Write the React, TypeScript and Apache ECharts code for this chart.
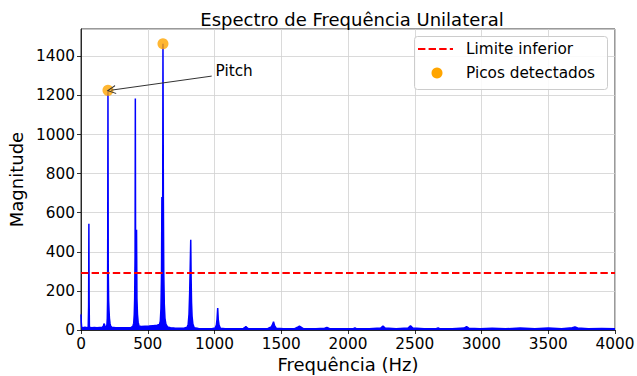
import React, { useEffect, useRef } from "react";
import * as echarts from "echarts";

// Spectrum (frequency in Hz, magnitude)
const spectrumFreq = [
  0, 2, 5, 15, 30, 45, 54, 57, 59, 61, 63, 80, 100, 120, 140, 160, 168, 172, 176, 180,
  188, 194, 197, 199, 200, 202, 204, 207, 210, 213, 217, 222, 230, 260, 290, 320, 350, 375,
  388, 395, 399, 402, 405, 407, 409, 412, 416, 419, 423, 428, 435, 450, 480, 510, 540, 570,
  588, 594, 599, 603, 606, 609, 612, 614, 617, 620, 624, 629, 636, 648, 670, 700, 740, 775,
  795, 803, 809, 814, 818, 822, 825, 828, 832, 838, 848, 880, 930, 980, 1005, 1014, 1019,
  1024, 1028, 1034, 1044, 1080, 1150, 1215, 1228, 1235, 1243, 1255, 1330, 1400, 1425, 1436,
  1442, 1450, 1462, 1520, 1600, 1622, 1636, 1648, 1665, 1760, 1825, 1842, 1860, 1950, 2040,
  2052, 2065, 2160, 2245, 2262, 2278, 2360, 2450, 2468, 2485, 2570, 2660, 2675, 2690, 2780,
  2870, 2888, 2905, 2990, 3080, 3180, 3290, 3400, 3500, 3600, 3680, 3700, 3720, 3800, 3900,
  4000,
];
const spectrumMag = [
  80, 40, 14, 12, 14, 12, 14, 120, 543, 150, 14, 12, 13, 12, 13, 14, 20, 32, 28, 16,
  14, 25, 60, 150, 420, 1226, 320, 150, 100, 60, 35, 20, 14, 12, 11, 12, 12, 13,
  18, 35, 80, 160, 380, 1185, 350, 230, 513, 160, 80, 40, 20, 18, 19, 20, 22, 24,
  28, 45, 110, 280, 680, 600, 640, 1465, 672, 290, 130, 60, 30, 16, 12, 10, 9, 10,
  14, 30, 80, 190, 320, 462, 260, 140, 70, 30, 12, 8, 7, 7, 10, 25, 55,
  112, 55, 25, 9, 7, 6, 7, 14, 18, 12, 6, 6, 8, 15, 30,
  42, 22, 9, 6, 7, 14, 20, 15, 7, 6, 9, 13, 8, 6, 7,
  11, 6, 6, 10, 20, 10, 6, 10, 22, 10, 6, 7, 11, 6, 6,
  10, 17, 9, 6, 9, 6, 10, 6, 10, 7, 12, 16, 10, 6, 8,
  6,
];

// Detected peaks
const peakFreq = [202, 614];
const peakMag = [1226, 1465];

// Lower limit
const thresholdValue = 292;

// Annotation
const pitchLabel = "Pitch";
const pitchTextPos = [1004, 1323];
const pitchArrowFrom = [979, 1299];
const pitchArrowTo = [226, 1227];

const xTicks = [0, 500, 1000, 1500, 2000, 2500, 3000, 3500, 4000];
const yTicks = [0, 200, 400, 600, 800, 1000, 1200, 1400];

const FONT = "DejaVu Sans";

export default function App() {
  const ref = useRef<HTMLDivElement>(null);

  useEffect(() => {
    if (!ref.current) return;
    const chart = echarts.init(ref.current, null, { renderer: "svg" });

    const spectrumData = spectrumFreq.map((f, i) => [f, spectrumMag[i]]);
    const peakData = peakFreq.map((f, i) => [f, peakMag[i]]);
    const xMin = xTicks[0];
    const xMax = xTicks[xTicks.length - 1];
    const yStep = yTicks[1] - yTicks[0];

    chart.setOption({
      animation: false,
      backgroundColor: "#ffffff",
      title: {
        text: "Espectro de Frequência Unilateral",
        left: 347,
        textAlign: "center",
        top: 5,
        textStyle: { fontFamily: FONT, fontSize: 18, fontWeight: "normal", color: "#000" },
      },
      grid: {
        left: 81,
        right: 22,
        top: 29,
        bottom: 46,
        show: true,
        borderColor: "#000",
        borderWidth: 0.8,
        backgroundColor: "transparent",
        containLabel: false,
        outerBoundsMode: "none",
      },
      xAxis: {
        type: "value",
        min: xMin,
        max: xMax,
        interval: xTicks[1] - xTicks[0],
        name: "Frequência (Hz)",
        nameLocation: "middle",
        nameGap: 25,
        nameTextStyle: { fontFamily: FONT, fontSize: 18, color: "#000", verticalAlign: "top" },
        axisLine: { show: true, lineStyle: { color: "#000", width: 0.8 } },
        axisTick: { show: true, length: 4, lineStyle: { color: "#000", width: 0.8 } },
        axisLabel: {
          fontFamily: FONT,
          fontSize: 15.3,
          color: "#000",
          margin: 6,
          formatter: (v: number) => String(v),
        },
        splitLine: { show: true, lineStyle: { color: "#d0d0d0", width: 0.8 } },
      },
      yAxis: {
        type: "value",
        min: 0,
        max: 1540,
        interval: yStep,
        name: "Magnitude",
        nameLocation: "middle",
        nameGap: 50,
        nameTextStyle: { fontFamily: FONT, fontSize: 18, color: "#000" },
        axisLine: { show: true, lineStyle: { color: "#000", width: 0.8 } },
        axisTick: { show: true, length: 4, lineStyle: { color: "#000", width: 0.8 } },
        axisLabel: {
          fontFamily: FONT,
          fontSize: 15.3,
          color: "#000",
          margin: 6,
          showMaxLabel: false,
          formatter: (v: number) => String(v),
        },
        splitLine: { show: true, lineStyle: { color: "#d0d0d0", width: 0.8 } },
      },
      series: [
        {
          name: "Espectro",
          type: "line",
          data: spectrumData,
          showSymbol: false,
          symbol: "none",
          lineStyle: { color: "#0000ff", width: 1.5 },
          areaStyle: { color: "#0000ff", opacity: 1 },
          z: 2,
        },
        {
          name: "Limite inferior",
          type: "line",
          data: [
            [xMin, thresholdValue],
            [xMax, thresholdValue],
          ],
          showSymbol: false,
          symbol: "none",
          lineStyle: { color: "#ff0000", width: 2, type: [7.4, 3.2] },
          z: 3,
        },
        {
          name: "Picos detectados",
          type: "scatter",
          data: peakData,
          symbol: "circle",
          symbolSize: 11,
          itemStyle: { color: "#ffa500" },
          z: 4,
          markLine: {
            silent: true,
            symbol: ["none", "path://M5,0 L10,10 L8.8,10 L5,2.4 L1.2,10 L0,10 Z"],
            symbolSize: [9, 9],
            lineStyle: { color: "#333", width: 1, type: "solid" },
            label: { show: false },
            data: [[{ coord: pitchArrowFrom }, { coord: pitchArrowTo }]],
          },
          markPoint: {
            silent: true,
            data: [
              {
                coord: pitchTextPos,
                symbol: "rect",
                symbolSize: 1,
                itemStyle: { color: "rgba(0,0,0,0)" },
                label: {
                  show: true,
                  formatter: pitchLabel,
                  position: "right",
                  distance: 0,
                  fontFamily: FONT,
                  fontSize: 15.3,
                  color: "#000",
                },
              },
            ],
          },
        },
      ],
      graphic: [
        {
          type: "rect",
          shape: { x: 414.5, y: 36.5, width: 193, height: 53, r: 3 },
          style: { fill: "rgba(255,255,255,0.85)", stroke: "#cccccc", lineWidth: 1 },
          z: 100,
        },
        {
          type: "line",
          shape: { x1: 418, y1: 49, x2: 453, y2: 49 },
          style: { stroke: "#ff0000", lineWidth: 2, lineDash: [7.4, 3.2] },
          z: 101,
        },
        {
          type: "text",
          x: 466,
          y: 49,
          style: {
            text: "Limite inferior",
            fontFamily: FONT,
            fontSize: 15.3,
            fill: "#000",
            verticalAlign: "middle",
          },
          z: 101,
        },
        {
          type: "circle",
          shape: { cx: 437, cy: 73, r: 5.5 },
          style: { fill: "#ffa500" },
          z: 101,
        },
        {
          type: "text",
          x: 466,
          y: 73,
          style: {
            text: "Picos detectados",
            fontFamily: FONT,
            fontSize: 15.3,
            fill: "#000",
            verticalAlign: "middle",
          },
          z: 101,
        },
      ],
    });

    return () => chart.dispose();
  }, []);

  return (
    <div
      ref={ref}
      style={{ position: "fixed", left: 0, top: 0, width: 637, height: 376, background: "#fff" }}
    />
  );
}
